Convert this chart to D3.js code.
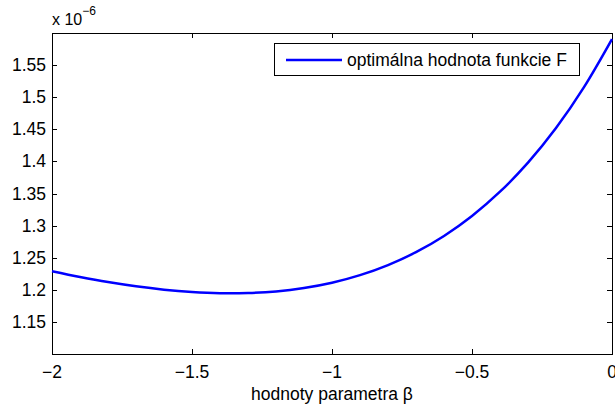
<!DOCTYPE html>
<html><head><meta charset="utf-8">
<script src="https://cdn.jsdelivr.net/npm/d3@7"></script>
<style>
body{margin:0;background:#fff;}
svg{display:block;font-family:"Liberation Sans",Arial,Helvetica,sans-serif;}
</style></head>
<body><svg id="c" width="615" height="406"></svg>
<script>
// Data (values in units of 1e-6)
const beta = [-2.0,-1.9,-1.8,-1.7,-1.6,-1.5,-1.4,-1.3,-1.2,-1.1,-1.0,-0.9,-0.8,-0.7,-0.6,-0.5,-0.4,-0.3,-0.2,-0.1,0.0];
const fValues = [1.2288,1.2199,1.2120,1.2054,1.2002,1.1966,1.1947,1.1950,1.1975,1.2028,1.2110,1.2228,1.2385,1.2586,1.2839,1.3150,1.3528,1.3980,1.4519,1.5156,1.5904];
const xTicks = [-2,-1.5,-1,-0.5,0];
const xTickLabels = ["\u22122","\u22121.5","\u22121","\u22120.5","0"];
const yTicks = [1.15,1.2,1.25,1.3,1.35,1.4,1.45,1.5,1.55];
const yTickLabels = ["1.15","1.2","1.25","1.3","1.35","1.4","1.45","1.5","1.55"];
const seriesName = "optimálna hodnota funkcie F";
const xLabel = "hodnoty parametra β";

const L=52,R=612,T=33,B=354;
const svg=d3.select("#c");
const x=d3.scaleLinear().domain([-2,0]).range([L,R]);
const y=d3.scaleLinear().domain([1.1,1.6]).range([B,T]);
const fs=17.5;

// ticks (inward, all four sides)
const tl=5;
const g=svg.append("g").attr("stroke","#000").attr("stroke-width",1).attr("shape-rendering","crispEdges");
xTicks.forEach(v=>{
  const px=Math.round(x(v))+0.5;
  g.append("line").attr("x1",px).attr("x2",px).attr("y1",B).attr("y2",B-tl);
  g.append("line").attr("x1",px).attr("x2",px).attr("y1",T).attr("y2",T+tl);
});
yTicks.forEach(v=>{
  const py=Math.round(y(v))+0.5;
  g.append("line").attr("x1",L).attr("x2",L+tl).attr("y1",py).attr("y2",py);
  g.append("line").attr("x1",R).attr("x2",R-tl).attr("y1",py).attr("y2",py);
});
// box
svg.append("rect").attr("x",L+0.5).attr("y",T+0.5).attr("width",R-L).attr("height",B-T)
  .attr("fill","none").attr("stroke","#000").attr("stroke-width",1).attr("shape-rendering","crispEdges");

// tick labels
xTicks.forEach((v,i)=>{
  svg.append("text").attr("x",x(v)).attr("y",378).attr("text-anchor","middle")
    .attr("font-size",fs).attr("fill","#000").text(xTickLabels[i]);
});
yTicks.forEach((v,i)=>{
  svg.append("text").attr("x",46).attr("y",y(v)+6).attr("text-anchor","end")
    .attr("font-size",fs).attr("fill","#000").text(yTickLabels[i]);
});
// exponent
const ex=svg.append("text").attr("x",52).attr("y",25).attr("font-size",16).attr("fill","#000");
ex.append("tspan").text("x 10");
ex.append("tspan").attr("dy",-10).attr("font-size",12).text("\u22126");

// x label
svg.append("text").attr("x",(L+R)/2).attr("y",400).attr("text-anchor","middle")
  .attr("font-size",fs).attr("fill","#000").text(xLabel);

// line
const pts=beta.map((b,i)=>[b,fValues[i]]);
svg.append("path").datum(pts)
  .attr("d",d3.line().x(d=>x(d[0])).y(d=>y(d[1])).curve(d3.curveCatmullRom))
  .attr("fill","none").attr("stroke","#0000ff").attr("stroke-width",2.5);

// legend
const lg=svg.append("g");
lg.append("rect").attr("x",274.5).attr("y",43.5).attr("width",305).attr("height",32)
  .attr("fill","#fff").attr("stroke","#000").attr("stroke-width",1).attr("shape-rendering","crispEdges");
lg.append("line").attr("x1",286).attr("x2",342).attr("y1",60).attr("y2",60)
  .attr("stroke","#0000ff").attr("stroke-width",2.5);
lg.append("text").attr("x",347).attr("y",66).attr("font-size",fs).attr("fill","#000").text(seriesName);
</script></body></html>
